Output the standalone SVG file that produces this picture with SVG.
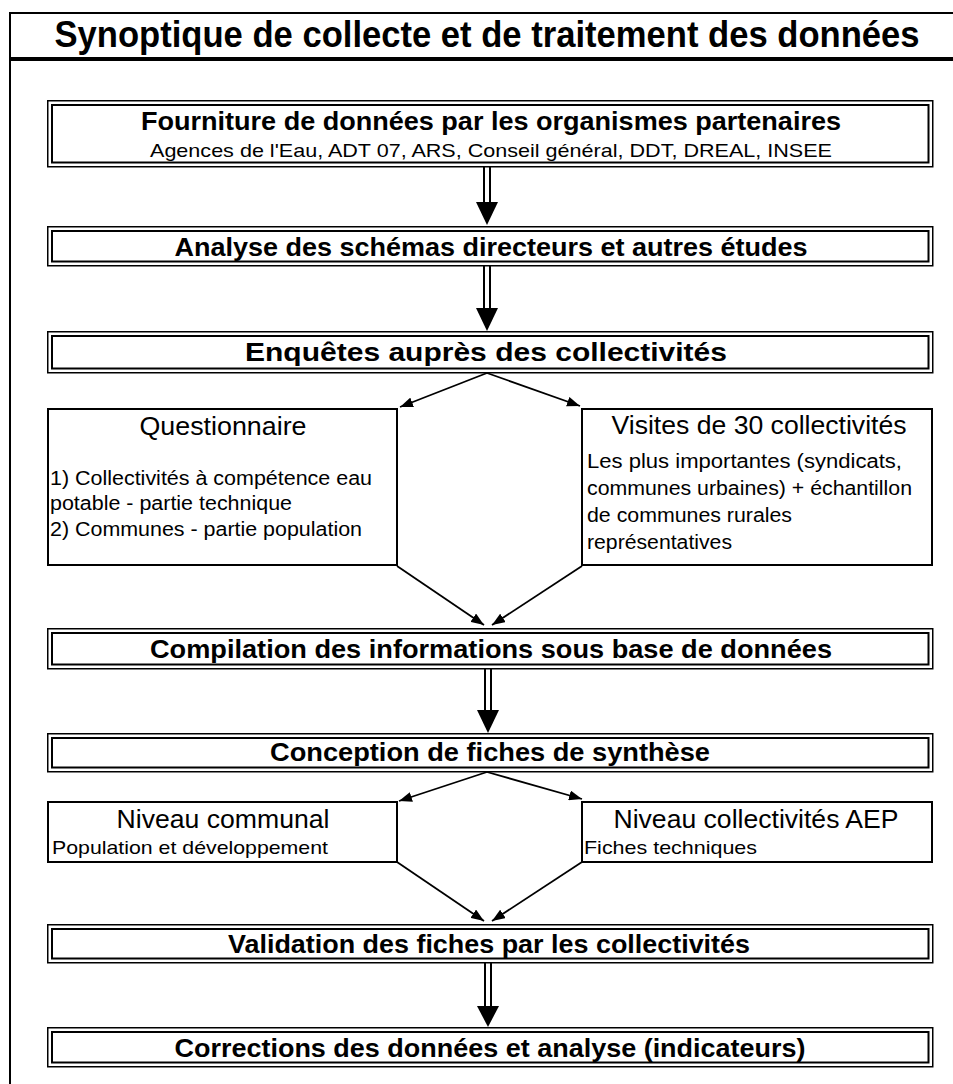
<svg xmlns="http://www.w3.org/2000/svg" width="953" height="1084" viewBox="0 0 953 1084">
<style>
.t{font-family:"Liberation Sans",Arial,sans-serif;fill:#000}
.b{font-weight:bold;font-size:26px;text-anchor:middle}
.h{font-size:26px;text-anchor:middle}
.s{font-size:20px}
.o{fill:#fff;stroke:#000;stroke-width:1.5}
.i{fill:none;stroke:#000;stroke-width:2}
.sb{fill:#fff;stroke:#000;stroke-width:2}
.c{stroke:#000;stroke-width:1.8;fill:none}
.sh{stroke:#000;stroke-width:2}
</style>
<defs>
<marker id="ah" viewBox="0 0 13 10" refX="13" refY="5" markerWidth="13" markerHeight="10" markerUnits="userSpaceOnUse" orient="auto"><path d="M0,0 L13,5 L0,10 z" fill="#000"/></marker>
</defs>
<rect width="953" height="1084" fill="#fff"/>
<g id="frame">
<line x1="10" y1="12" x2="10" y2="1084" stroke="#000" stroke-width="2"/>
<line x1="9" y1="13" x2="953" y2="13" stroke="#000" stroke-width="2"/>
<line x1="9" y1="59" x2="953" y2="59" stroke="#000" stroke-width="4"/>
<text class="t" x="487" y="47" font-size="36" font-weight="bold" text-anchor="middle" textLength="865" lengthAdjust="spacingAndGlyphs">Synoptique de collecte et de traitement des données</text>
</g>
<g id="connectors">
<line class="sh" x1="484" y1="167" x2="484" y2="204"/><line class="sh" x1="490" y1="167" x2="490" y2="204"/>
<polygon points="476,202 498,202 487,225"/>
<line class="sh" x1="484" y1="266" x2="484" y2="310"/><line class="sh" x1="490" y1="266" x2="490" y2="310"/>
<polygon points="476,308 498,308 487,331"/>
<line class="c" x1="487" y1="373" x2="400" y2="407" marker-end="url(#ah)"/>
<line class="c" x1="487" y1="373" x2="580" y2="406" marker-end="url(#ah)"/>
<line class="c" x1="397" y1="566" x2="484" y2="625" marker-end="url(#ah)"/>
<line class="c" x1="582" y1="566" x2="492" y2="625" marker-end="url(#ah)"/>
<line class="sh" x1="485" y1="669" x2="485" y2="712"/><line class="sh" x1="491" y1="669" x2="491" y2="712"/>
<polygon points="477,710 499,710 488,733"/>
<line class="c" x1="487" y1="772" x2="399" y2="801" marker-end="url(#ah)"/>
<line class="c" x1="487" y1="772" x2="582" y2="799" marker-end="url(#ah)"/>
<line class="c" x1="397" y1="862" x2="484" y2="921" marker-end="url(#ah)"/>
<line class="c" x1="582" y1="862" x2="492" y2="921" marker-end="url(#ah)"/>
<line class="sh" x1="485" y1="963" x2="485" y2="1008"/><line class="sh" x1="491" y1="963" x2="491" y2="1008"/>
<polygon points="477,1006 499,1006 488,1027"/>
</g>
<g id="n1">
<rect class="o" x="47.75" y="100.75" width="885" height="66"/>
<rect class="i" x="52" y="105" width="876.5" height="57.5"/>
<text class="t b" x="491" y="130" textLength="700" lengthAdjust="spacingAndGlyphs">Fourniture de données par les organismes partenaires</text>
<text class="t" x="491" y="157" font-size="19" text-anchor="middle" textLength="682" lengthAdjust="spacingAndGlyphs">Agences de l'Eau, ADT 07, ARS, Conseil général, DDT, DREAL, INSEE</text>
</g>
<g id="n2">
<rect class="o" x="47.75" y="226.75" width="885" height="39"/>
<rect class="i" x="52" y="231" width="876.5" height="30.5"/>
<text class="t b" x="491" y="256" textLength="633" lengthAdjust="spacingAndGlyphs">Analyse des schémas directeurs et autres études</text>
</g>
<g id="n3">
<rect class="o" x="47.75" y="331.75" width="885" height="41"/>
<rect class="i" x="52" y="336" width="876.5" height="32.5"/>
<text class="t b" x="486" y="361" textLength="482" lengthAdjust="spacingAndGlyphs">Enquêtes auprès des collectivités</text>
</g>
<g id="n4">
<rect class="sb" x="48" y="409" width="349" height="156"/>
<text class="t h" x="223" y="435" textLength="167" lengthAdjust="spacingAndGlyphs">Questionnaire</text>
<text class="t s" x="50" y="485" textLength="322" lengthAdjust="spacingAndGlyphs">1) Collectivités à compétence eau</text>
<text class="t s" x="50" y="510" textLength="242" lengthAdjust="spacingAndGlyphs">potable - partie technique</text>
<text class="t s" x="50" y="536" textLength="312" lengthAdjust="spacingAndGlyphs">2) Communes - partie population</text>
</g>
<g id="n5">
<rect class="sb" x="582" y="409" width="350" height="156"/>
<text class="t h" x="759" y="434" textLength="295" lengthAdjust="spacingAndGlyphs">Visites de 30 collectivités</text>
<text class="t s" x="587" y="468" textLength="315" lengthAdjust="spacingAndGlyphs">Les plus importantes (syndicats,</text>
<text class="t s" x="587" y="495" textLength="325" lengthAdjust="spacingAndGlyphs">communes urbaines) + échantillon</text>
<text class="t s" x="587" y="522" textLength="205" lengthAdjust="spacingAndGlyphs">de communes rurales</text>
<text class="t s" x="587" y="549" textLength="145" lengthAdjust="spacingAndGlyphs">représentatives</text>
</g>
<g id="n6">
<rect class="o" x="47.75" y="628.75" width="885" height="40"/>
<rect class="i" x="52" y="633" width="876.5" height="31.5"/>
<text class="t b" x="491" y="658" textLength="682" lengthAdjust="spacingAndGlyphs">Compilation des informations sous base de données</text>
</g>
<g id="n7">
<rect class="o" x="47.75" y="733.75" width="885" height="38"/>
<rect class="i" x="52" y="738" width="876.5" height="29.5"/>
<text class="t b" x="490" y="761" textLength="440" lengthAdjust="spacingAndGlyphs">Conception de fiches de synthèse</text>
</g>
<g id="n8">
<rect class="sb" x="48" y="802" width="349" height="60"/>
<text class="t h" x="223" y="828" textLength="213" lengthAdjust="spacingAndGlyphs">Niveau communal</text>
<text class="t" x="52" y="854" font-size="19" textLength="276" lengthAdjust="spacingAndGlyphs">Population et développement</text>
</g>
<g id="n9">
<rect class="sb" x="582" y="802" width="350" height="60"/>
<text class="t h" x="756" y="828" textLength="285" lengthAdjust="spacingAndGlyphs">Niveau collectivités AEP</text>
<text class="t" x="584" y="854" font-size="19" textLength="173" lengthAdjust="spacingAndGlyphs">Fiches techniques</text>
</g>
<g id="n10">
<rect class="o" x="47.75" y="924.75" width="885" height="38"/>
<rect class="i" x="52" y="929" width="876.5" height="29.5"/>
<text class="t b" x="489" y="953" textLength="522" lengthAdjust="spacingAndGlyphs">Validation des fiches par les collectivités</text>
</g>
<g id="n11">
<rect class="o" x="47.75" y="1027.75" width="885" height="39"/>
<rect class="i" x="52" y="1032" width="876.5" height="30.5"/>
<text class="t b" x="490" y="1057" textLength="631" lengthAdjust="spacingAndGlyphs">Corrections des données et analyse (indicateurs)</text>
</g>
</svg>
